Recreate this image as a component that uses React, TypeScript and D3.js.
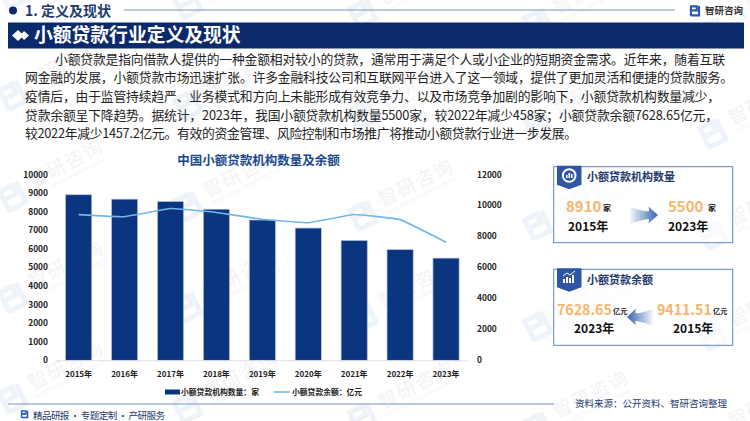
import React from "react";
import * as d3 from "d3";

const years = ["2015年","2016年","2017年","2018年","2019年","2020年","2021年","2022年","2023年"];
const institutions = [8910,8673,8551,8133,7551,7118,6453,5958,5500];
const balances = [9411.51,9272.8,9799.49,9550.44,9108.78,8887.7,9415,9085.85,7628.65];
const leftTicks = [0,1000,2000,3000,4000,5000,6000,7000,8000,9000,10000];
const rightTicks = [0,2000,4000,6000,8000,10000,12000];
const paragraph = [
  "小额贷款是指向借款人提供的一种金额相对较小的贷款，通常用于满足个人或小企业的短期资金需求。近年来，随着互联",
  "网金融的发展，小额贷款市场迅速扩张。许多金融科技公司和互联网平台进入了这一领域，提供了更加灵活和便捷的贷款服务。",
  "疫情后，由于监管持续趋严、业务模式和方向上未能形成有效竞争力、以及市场竞争加剧的影响下，小额贷款机构数量减少，",
  "贷款余额呈下降趋势。据统计，2023年，我国小额贷款机构数量5500家，较2022年减少458家；小额贷款余额7628.65亿元，",
  "较2022年减少1457.2亿元。有效的资金管理、风险控制和市场推广将推动小额贷款行业进一步发展。",
];
const paragraphWidths = [670, 708, 695, 693, 552];
const wmCols = [4, 179, 354, 529, 704];
const wmRows = [3, 104, 205, 306, 407];

const FONT = "'Noto Sans CJK SC','Noto Sans',sans-serif";
const NAVY = "#0b2a6b";
const INK = "#1f3a6e";
const ORANGE = "#f9b56c";

function LogoMark({ x, y, s, c }: { x: number; y: number; s: number; c: string }) {
  return (
    <g transform={`translate(${x},${y}) scale(${s})`} fill="none" stroke={c} strokeWidth={2.4}>
      <path d="M1 11V1.5H7.5V6H1" />
      <path d="M10 1V11.5H1" />
      <path d="M1 11V12" />
    </g>
  );
}

function Watermark({ x, y }: { x: number; y: number }) {
  return (
    <g transform={`translate(${x},${y}) rotate(-27)`} opacity={0.5}>
      <LogoMark x={0} y={-17} s={2.1} c="#dfe9f5" />
      <text x={33} y={-2} fontSize={19} fontFamily={FONT} fill="#e6e9ef" letterSpacing={1.5}>智研咨询</text>
      <text x={33} y={7} fontSize={5} fontFamily={FONT} fill="#e6e9ef">INTELLIGENCE RESEARCH GROUP</text>
    </g>
  );
}

function Arrow({ x, y, w, dir, id }: { x: number; y: number; w: number; dir: 1 | -1; id: string }) {
  const p = `M0 -8 Q${w * 0.5} -3 ${w * 0.68} -4 L${w * 0.66} -8.5 L${w} 0 L${w * 0.66} 8.5 L${w * 0.68} 4 Q${w * 0.5} 4 0 9 Z`;
  return (
    <g transform={dir === 1 ? `translate(${x},${y})` : `translate(${x + w},${y}) scale(-1,1)`}>
      <defs>
        <linearGradient id={id} x1="0" x2="1" y1="0" y2="0">
          <stop offset="0" stopColor="#3f69b3" stopOpacity={0.05} />
          <stop offset="0.75" stopColor="#3f69b3" stopOpacity={0.8} />
          <stop offset="1" stopColor="#3f69b3" />
        </linearGradient>
      </defs>
      <path d={p} fill={`url(#${id})`} />
    </g>
  );
}

function Stat({ x, y, value, valueSize, unit, unitX, year, yearX, unitSize }: { x: number; y: number; value: string; valueSize: number; unit: string; unitX: number; year: string; yearX: number; unitSize: number }) {
  return (
    <g fontFamily={FONT} fontWeight={700}>
      <text x={x} y={y} fontSize={valueSize} fill={ORANGE}>{value}</text>
      <text x={unitX} y={y - 1} fontSize={unitSize} fill="#222">{unit}</text>
      <text x={yearX} y={y + 18.5} fontSize={12} fill="#111">{year}</text>
    </g>
  );
}

function Card({ y, title, icon }: { y: number; title: string; icon: React.ReactNode }) {
  return (
    <g>
      <rect x={553.7} y={y} width={179} height={76} fill="#fff" fillOpacity={0.6} stroke="#6484c2" strokeWidth={1} />
      <path d={`M557 ${y - 1}H581.5V${y + 18}L569.2 ${y + 22.5}L557 ${y + 18}Z`} fill="#2f56a5" />
      {icon}
      <text x={587} y={y + 14.5} fontSize={11} fontWeight={700} fontFamily={FONT} fill={INK}>{title}</text>
    </g>
  );
}

export default function App() {
  const x = d3.scaleBand<string>().domain(years).range([55.7, 469]).paddingInner(0.43).paddingOuter(0.215);
  const yL = d3.scaleLinear().domain([0, 10000]).range([360.3, 174.5]);
  const yR = d3.scaleLinear().domain([0, 12000]).range([360.3, 174.5]);
  const cx = (y: string) => (x(y) as number) + x.bandwidth() / 2;
  const linePath = d3.line<number>().x((_, i) => cx(years[i])).y((d) => yR(d)).curve(d3.curveCardinal.tension(0.75))(balances) as string;

  return (
    <svg width={750} height={421} viewBox="0 0 750 421" style={{ position: "absolute", left: 0, top: 0, background: "#fff" }}>
      {wmRows.map((ry, i) => wmCols.map((cxv, j) => <Watermark key={`${i}-${j}`} x={cxv} y={ry + j * 9.5} />))}

      <circle cx={13} cy={10.5} r={4} fill={NAVY} />
      <text x={25} y={15.5} fontSize={14} fontWeight={700} fontFamily={FONT} fill={INK}>1. 定义及现状</text>
      <line x1={124} x2={675} y1={10} y2={10} stroke="#7d92c2" strokeWidth={1} />
      <LogoMark x={690} y={5} s={0.9} c="#2a5bb0" />
      <text x={705} y={14} fontSize={9.5} fontWeight={700} fontFamily={FONT} fill="#333">智研咨询</text>

      <rect x={8} y={22.5} width={736} height={26} fill={NAVY} />
      <path d="M12 35.5L18 30L24 35.5L18 41Z" fill="#fff" />
      <path d="M20 35.5L24 31L29 35.5L24 40Z" fill="#fff" />
      <text x={34} y={42} fontSize={18.8} fontWeight={700} fontFamily={FONT} fill="#fff">小额贷款行业定义及现状</text>

      {paragraph.map((t, i) => (
        <text key={i} x={i === 0 ? 55 : 25} y={63.5 + i * 18.7} fontSize={12.8} fontFamily={FONT} fill="#222" textLength={paragraphWidths[i]} lengthAdjust="spacing">{t}</text>
      ))}

      <text x={258.5} y={164.5} textAnchor="middle" fontSize={12.5} fontWeight={700} fontFamily={FONT} fill="#1b4a8c">中国小额贷款机构数量及余额</text>

      {leftTicks.map((t) => (
        <text key={t} x={48} y={yL(t) + 3} textAnchor="end" fontSize={8.4} fontWeight={700} fontFamily={FONT} fill="#222">{t}</text>
      ))}
      {rightTicks.map((t) => (
        <text key={t} x={477} y={yR(t) + 3} fontSize={8.4} fontWeight={700} fontFamily={FONT} fill="#222">{t}</text>
      ))}
      {years.map((y, i) => (
        <rect key={y} x={x(y)} y={yL(institutions[i])} width={x.bandwidth()} height={yL(0) - yL(institutions[i])} fill="#0c3580" stroke="#b3c6e6" strokeWidth={0.7} />
      ))}
      <line x1={55.7} x2={469} y1={360.8} y2={360.8} stroke="#dcdfe6" strokeWidth={1} />
      <path d={linePath} fill="none" stroke="#6fb8e8" strokeWidth={1.6} />
      {years.map((y) => (
        <text key={y} x={cx(y)} y={377} textAnchor="middle" fontSize={8} fontWeight={700} fontFamily={FONT} fill="#222">{y}</text>
      ))}

      <rect x={165} y={389.5} width={15} height={5} fill="#0c3580" />
      <text x={181} y={395} fontSize={7.8} fontWeight={700} fontFamily={FONT} fill="#222">小额贷款机构数量：家</text>
      <line x1={274} x2={290} y1={392} y2={392} stroke="#6fb8e8" strokeWidth={1.6} />
      <text x={292} y={395} fontSize={7.8} fontWeight={700} fontFamily={FONT} fill="#222">小额贷款余额：亿元</text>

      <Card y={166.7} title="小额贷款机构数量" icon={
        <g>
          <circle cx={569.2} cy={175.5} r={6.3} fill="none" stroke="#fff" strokeWidth={2} />
          <rect x={566} y={175} width={1.6} height={3} fill="#fff" />
          <rect x={568.5} y={173} width={1.6} height={5} fill="#fff" />
          <rect x={571} y={174} width={1.6} height={4} fill="#fff" />
        </g>
      } />
      <Stat x={566} y={212} value="8910" valueSize={15} unit="家" unitX={603} unitSize={8} year="2015年" yearX={568} />
      <Arrow x={630} y={215} w={28} dir={1} id="a1" />
      <Stat x={668} y={212} value="5500" valueSize={15} unit="家" unitX={708} unitSize={8} year="2023年" yearX={668} />

      <Card y={269.3} title="小额贷款余额" icon={
        <g fill="#fff">
          <rect x={563} y={279} width={2} height={4} />
          <rect x={566} y={277} width={2} height={6} />
          <rect x={569} y={278} width={2} height={5} />
          <rect x={572} y={275} width={2} height={8} />
          <path d="M563 276L567 273L570 275L575 271" fill="none" stroke="#fff" strokeWidth={1} />
        </g>
      } />
      <Stat x={557} y={314.5} value="7628.65" valueSize={14.2} unit="亿元" unitX={613} unitSize={7.2} year="2023年" yearX={574} />
      <Arrow x={627} y={317} w={26} dir={-1} id="a2" />
      <Stat x={657} y={314.5} value="9411.51" valueSize={14.2} unit="亿元" unitX={713} unitSize={7.2} year="2015年" yearX={673} />

      <line x1={8} x2={554} y1={404} y2={404} stroke="#7d92c2" strokeWidth={1} />
      <LogoMark x={21} y={410} s={0.65} c="#2a5bb0" />
      <text x={33} y={419} fontSize={9.6} fontFamily={FONT} fill={INK} textLength={132} lengthAdjust="spacing">精品研报 · 专题定制 · 产研服务</text>
      <text x={575} y={407} fontSize={9.5} fontFamily={FONT} fill={INK}>资料来源：公开资料、智研咨询整理</text>
    </svg>
  );
}
